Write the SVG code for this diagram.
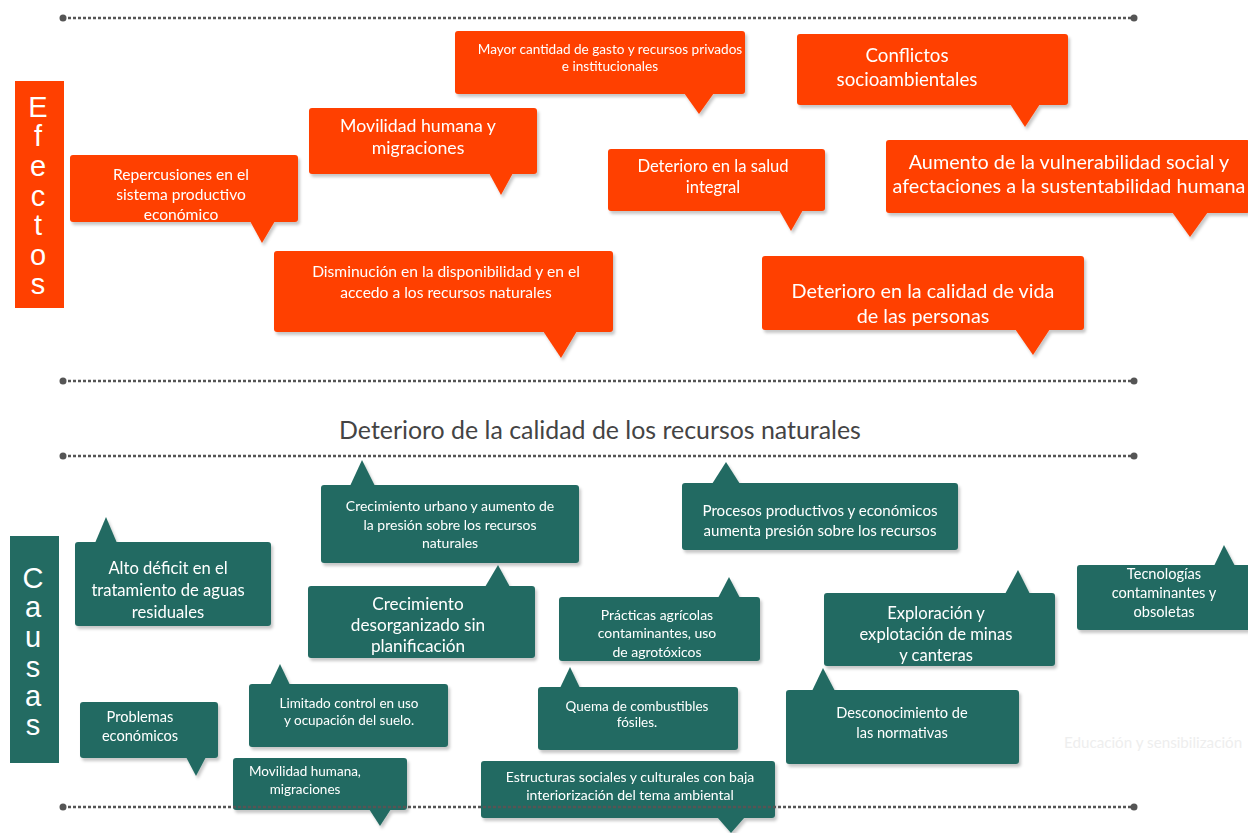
<svg xmlns="http://www.w3.org/2000/svg" width="1248" height="833" viewBox="0 0 1248 833">
<defs>
<filter id="sh" x="-5%" y="-5%" width="115%" height="125%">
<feDropShadow dx="2" dy="3" stdDeviation="1.8" flood-color="#000" flood-opacity="0.22"/>
</filter>
</defs>
<style>
.eff{fill:#FF4000}
.cau{fill:#236B62}
.t{font-family:Lato,"Open Sans",sans-serif;fill:#fff;text-anchor:middle}
.side{font-family:"Liberation Sans",Arial,sans-serif;fill:#fff;text-anchor:middle}
.dl{stroke:#555;stroke-width:2.5;stroke-dasharray:3 2;fill:none}
.dot{fill:#555}
</style>
<rect width="1248" height="833" fill="#fff"/>

<g id="lines-top">
<line class="dl" x1="63" y1="18" x2="1134" y2="18"/><circle class="dot" cx="63" cy="18" r="3.5"/><circle class="dot" cx="1134" cy="18" r="3.5"/>
<line class="dl" x1="63" y1="381" x2="1134" y2="381"/><circle class="dot" cx="63" cy="381" r="3.5"/><circle class="dot" cx="1134" cy="381" r="3.5"/>
<line class="dl" x1="63" y1="456" x2="1134" y2="456"/><circle class="dot" cx="63" cy="456" r="3.5"/><circle class="dot" cx="1134" cy="456" r="3.5"/>
</g>

<g id="efectos-label">
<rect class="eff" x="15" y="81" width="49" height="227"/>
<text class="side" font-size="29" x="38" y="117">E</text>
<text class="side" font-size="29" x="38" y="146">f</text>
<text class="side" font-size="29" x="38" y="176">e</text>
<text class="side" font-size="29" x="38" y="206">c</text>
<text class="side" font-size="29" x="38" y="235">t</text>
<text class="side" font-size="29" x="38" y="265">o</text>
<text class="side" font-size="29" x="38" y="294">s</text>
</g>

<g id="causas-label">
<rect class="cau" x="10" y="536" width="49" height="227"/>
<text class="side" font-size="29" x="33" y="588">C</text>
<text class="side" font-size="29" x="33" y="617">a</text>
<text class="side" font-size="29" x="33" y="647">u</text>
<text class="side" font-size="29" x="33" y="677">s</text>
<text class="side" font-size="29" x="33" y="706">a</text>
<text class="side" font-size="29" x="33" y="735">s</text>
</g>

<!-- Effects -->
<g id="e1" filter="url(#sh)">
<rect class="eff" x="70" y="155" width="228" height="67" rx="3"/>
<polygon class="eff" points="250,221 275,221 262,243"/>
<text class="t" font-size="15.6" x="181" y="180">Repercusiones en el</text>
<text class="t" font-size="15.6" x="181" y="200">sistema productivo</text>
<text class="t" font-size="15.6" x="181" y="220">económico</text>
</g>
<g id="e2" filter="url(#sh)">
<rect class="eff" x="309" y="108" width="228" height="66" rx="3"/>
<polygon class="eff" points="489,173 513,173 501,195"/>
<text class="t" font-size="17.7" x="418" y="132">Movilidad humana y</text>
<text class="t" font-size="17.7" x="418" y="154">migraciones</text>
</g>
<g id="e3" filter="url(#sh)">
<rect class="eff" x="455" y="31" width="290" height="63" rx="3"/>
<polygon class="eff" points="684,93 714,93 699,114"/>
<text class="t" font-size="13.6" x="610" y="54">Mayor cantidad de gasto y recursos privados</text>
<text class="t" font-size="13.6" x="610" y="71">e institucionales</text>
</g>
<g id="e4" filter="url(#sh)">
<rect class="eff" x="797" y="34" width="271" height="71" rx="3"/>
<polygon class="eff" points="1010,104 1040,104 1025,127"/>
<text class="t" font-size="18.7" x="907" y="62">Conflictos</text>
<text class="t" font-size="18.7" x="907" y="86">socioambientales</text>
</g>
<g id="e5" filter="url(#sh)">
<rect class="eff" x="608" y="149" width="217" height="62" rx="3"/>
<polygon class="eff" points="779,210 803,210 791,231"/>
<text class="t" font-size="16.6" x="713" y="172">Deterioro en la salud</text>
<text class="t" font-size="16.6" x="713" y="193">integral</text>
</g>
<g id="e6" filter="url(#sh)">
<rect class="eff" x="886" y="140" width="364" height="73" rx="3"/>
<polygon class="eff" points="1172,212 1208,212 1190,237"/>
<text class="t" font-size="19.8" x="1069" y="169">Aumento de la vulnerabilidad social y</text>
<text class="t" font-size="19.8" x="1069" y="193">afectaciones a la sustentabilidad humana</text>
</g>
<g id="e7" filter="url(#sh)">
<rect class="eff" x="274" y="251" width="339" height="81" rx="3"/>
<polygon class="eff" points="543,331 577,331 561,358"/>
<text class="t" font-size="15.6" x="446" y="277">Disminución en la disponibilidad y en el</text>
<text class="t" font-size="15.6" x="446" y="298">accedo a los recursos naturales</text>
</g>
<g id="e8" filter="url(#sh)">
<rect class="eff" x="762" y="256" width="322" height="74" rx="3"/>
<polygon class="eff" points="1015,329 1050,329 1033,355"/>
<text class="t" font-size="19.8" x="923" y="298">Deterioro en la calidad de vida</text>
<text class="t" font-size="19.8" x="923" y="323">de las personas</text>
</g>

<g id="title">
<text font-family="Lato,'Open Sans',sans-serif" font-size="24.9" fill="#444" text-anchor="middle" x="600" y="439">Deterioro de la calidad de los recursos naturales</text>
</g>

<!-- Causes -->
<g id="c1" filter="url(#sh)">
<rect class="cau" x="75" y="542" width="196" height="84" rx="3"/>
<polygon class="cau" points="95,543 117,543 106,517"/>
<text class="t" font-size="16.6" x="168" y="574">Alto déficit en el</text>
<text class="t" font-size="16.6" x="168" y="596">tratamiento de aguas</text>
<text class="t" font-size="16.6" x="168" y="618">residuales</text>
</g>
<g id="c2" filter="url(#sh)">
<rect class="cau" x="321" y="485" width="258" height="78" rx="3"/>
<polygon class="cau" points="350,486 375,486 362,460"/>
<text class="t" font-size="14" x="450" y="511">Crecimiento urbano y aumento de</text>
<text class="t" font-size="14" x="450" y="530">la presión sobre los recursos</text>
<text class="t" font-size="14" x="450" y="548">naturales</text>
</g>
<g id="c3" filter="url(#sh)">
<rect class="cau" x="682" y="483" width="276" height="67" rx="3"/>
<polygon class="cau" points="712,484 740,484 726,462"/>
<text class="t" font-size="15.1" x="820" y="516">Procesos productivos y económicos</text>
<text class="t" font-size="15.1" x="820" y="536">aumenta presión sobre los recursos</text>
</g>
<g id="c4" filter="url(#sh)">
<rect class="cau" x="308" y="586" width="227" height="72" rx="3"/>
<polygon class="cau" points="485,587 510,587 498,565"/>
<text class="t" font-size="17.2" x="418" y="610">Crecimiento</text>
<text class="t" font-size="17.2" x="418" y="631">desorganizado sin</text>
<text class="t" font-size="17.2" x="418" y="652">planificación</text>
</g>
<g id="c5" filter="url(#sh)">
<rect class="cau" x="559" y="597" width="201" height="64" rx="3"/>
<polygon class="cau" points="718,598 740,598 729,577"/>
<text class="t" font-size="14" x="657" y="620">Prácticas agrícolas</text>
<text class="t" font-size="14" x="657" y="638">contaminantes, uso</text>
<text class="t" font-size="14" x="657" y="657">de agrotóxicos</text>
</g>
<g id="c6" filter="url(#sh)">
<rect class="cau" x="824" y="593" width="231" height="73" rx="3"/>
<polygon class="cau" points="1005,594 1030,594 1018,570"/>
<text class="t" font-size="16.6" x="936" y="619">Exploración y</text>
<text class="t" font-size="16.6" x="936" y="640">explotación de minas</text>
<text class="t" font-size="16.6" x="936" y="661">y canteras</text>
</g>
<g id="c7" filter="url(#sh)">
<rect class="cau" x="1077" y="565" width="175" height="65" rx="3"/>
<polygon class="cau" points="1214,566 1235,566 1224,545"/>
<text class="t" font-size="14.6" x="1164" y="579">Tecnologías</text>
<text class="t" font-size="14.6" x="1164" y="598">contaminantes y</text>
<text class="t" font-size="14.6" x="1164" y="617">obsoletas</text>
</g>
<g id="c8" filter="url(#sh)">
<rect class="cau" x="80" y="702" width="138" height="56" rx="3"/>
<polygon class="cau" points="186,757 206,757 196,776"/>
<text class="t" font-size="14.6" x="140" y="722">Problemas</text>
<text class="t" font-size="14.6" x="140" y="741">económicos</text>
</g>
<g id="c9" filter="url(#sh)">
<rect class="cau" x="249" y="684" width="199" height="63" rx="3"/>
<polygon class="cau" points="270,685 290,685 280,664"/>
<text class="t" font-size="13.5" x="349" y="708">Limitado control en uso</text>
<text class="t" font-size="13.5" x="349" y="725">y ocupación del suelo.</text>
</g>
<g id="c10" filter="url(#sh)">
<rect class="cau" x="538" y="687" width="200" height="63" rx="3"/>
<polygon class="cau" points="560,688 580,688 570,667"/>
<text class="t" font-size="13.5" x="637" y="711">Quema de combustibles</text>
<text class="t" font-size="13.5" x="637" y="727">fósiles.</text>
</g>
<g id="c11" filter="url(#sh)">
<rect class="cau" x="786" y="690" width="233" height="74" rx="3"/>
<polygon class="cau" points="812,691 835,691 823,668"/>
<text class="t" font-size="14.6" x="902" y="718">Desconocimiento de</text>
<text class="t" font-size="14.6" x="902" y="738">las normativas</text>
</g>
<g id="c12" filter="url(#sh)">
<rect class="cau" x="233" y="758" width="174" height="52" rx="3"/>
<polygon class="cau" points="369,809 391,809 380,826"/>
<text class="t" font-size="13.5" x="305" y="776">Movilidad humana,</text>
<text class="t" font-size="13.5" x="305" y="794">migraciones</text>
</g>
<g id="c13" filter="url(#sh)">
<rect class="cau" x="481" y="761" width="294" height="57" rx="3"/>
<polygon class="cau" points="717,817 745,817 731,833"/>
<text class="t" font-size="14" x="630" y="782">Estructuras sociales y culturales con baja</text>
<text class="t" font-size="14" x="630" y="800">interiorización del tema ambiental</text>
</g>

<g id="faint">
<text font-family="Lato,'Open Sans',sans-serif" font-size="15.2" fill="#eeeeee" x="1064" y="748">Educación y sensibilización</text>
</g>

<g id="lines-bottom">
<line class="dl" x1="63" y1="807" x2="1134" y2="807"/><circle class="dot" cx="63" cy="807" r="3.5"/><circle class="dot" cx="1134" cy="807" r="3.5"/>
</g>
</svg>
